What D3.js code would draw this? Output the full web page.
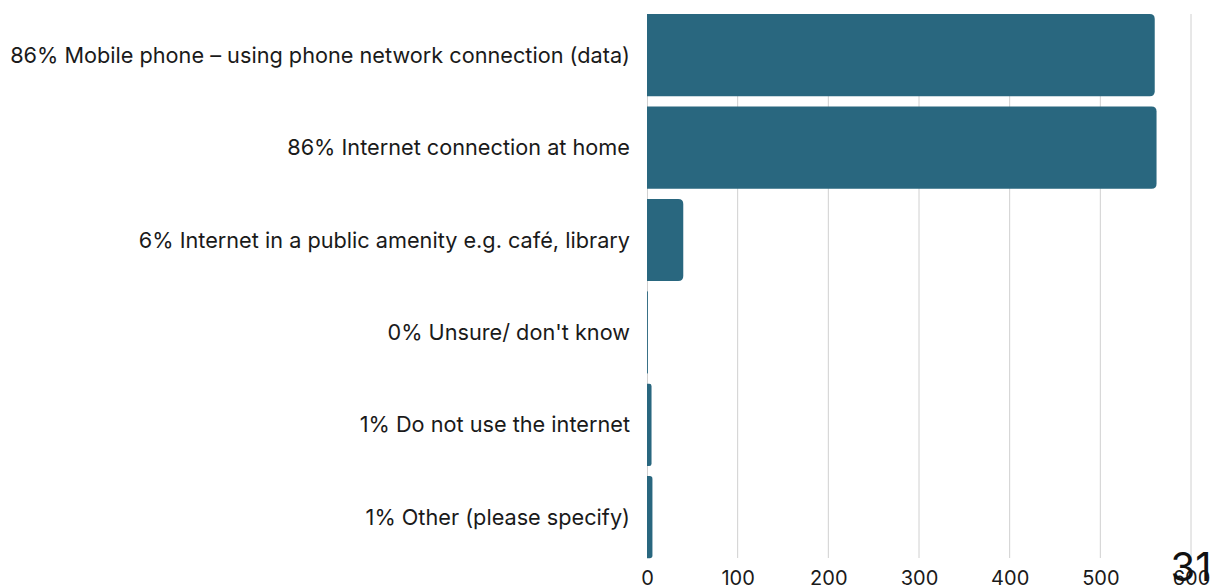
<!DOCTYPE html>
<html>
<head>
<meta charset="utf-8">
<script src="https://cdn.jsdelivr.net/npm/d3@7"></script>
<style>
  html, body { margin: 0; padding: 0; background: #fff; }
  svg { display: block; font-family: "Inter", "Noto Sans", sans-serif; }
</style>
</head>
<body>
<svg id="chart" width="1222" height="585"></svg>
<script>
// Survey answers: how respondents connect to the internet
const categories = [
  "86% Mobile phone \u2013 using phone network connection (data)",
  "86% Internet connection at home",
  "6% Internet in a public amenity e.g. caf\u00e9, library",
  "0% Unsure/ don't know",
  "1% Do not use the internet",
  "1% Other (please specify)"
];
const counts = [560, 562, 40, 1, 5, 6];
const xTicks = [0, 100, 200, 300, 400, 500, 600];
const cornerLabel = "31";

const svg = d3.select("#chart");
const x0 = 647, x1 = 1191;

const x = d3.scaleLinear().domain([0, 600]).range([x0, x1]);
const y = d3.scaleBand()
  .domain(categories)
  .range([9, 563.4])
  .paddingInner(0.11)
  .paddingOuter(0.055);

// vertical grid lines
svg.append("g")
  .selectAll("line")
  .data(xTicks.slice(1))
  .join("line")
  .attr("x1", d => x(d)).attr("x2", d => x(d))
  .attr("y1", 14).attr("y2", 558)
  .attr("stroke", "#d0d0d0")
  .attr("stroke-width", 1);

// zero baseline
svg.append("line")
  .attr("x1", x(0) + 0.5).attr("x2", x(0) + 0.5)
  .attr("y1", 14).attr("y2", 558)
  .attr("stroke", "#d0d0d0");

// bars, rounded on the value end only
function barPath(d) {
  const left = x(0), right = x(d.v);
  const top = y(d.c), h = y.bandwidth();
  const r = Math.min(5, (right - left) / 2, h / 2);
  return `M${left},${top}H${right - r}Q${right},${top} ${right},${top + r}` +
         `V${top + h - r}Q${right},${top + h} ${right - r},${top + h}H${left}Z`;
}
svg.append("g")
  .selectAll("path")
  .data(categories.map((c, i) => ({ c, v: counts[i] })))
  .join("path")
  .attr("d", barPath)
  .attr("fill", "#29677f");

// category labels
svg.append("g")
  .selectAll("text")
  .data(categories)
  .join("text")
  .attr("x", 630)
  .attr("y", d => y(d) + y.bandwidth() / 2)
  .attr("dy", "0.35em")
  .attr("text-anchor", "end")
  .attr("font-size", 21.7)
  .attr("fill", "#1a1a1a")
  .text(d => d);

// x axis tick labels
const xAxis = d3.axisBottom(x).tickValues(xTicks).tickSize(0).tickPadding(0);
const gx = svg.append("g").attr("transform", "translate(0,566)").call(xAxis);
gx.select(".domain").remove();
gx.selectAll("text")
  .attr("font-size", 20)
  .attr("font-family", "Inter, 'Noto Sans', sans-serif")
  .attr("fill", "#1a1a1a")
  .attr("dy", "0.95em");

// corner figure
svg.append("text")
  .attr("x", x(600))
  .attr("y", 581)
  .attr("text-anchor", "middle")
  .attr("font-size", 40)
  .attr("fill", "#111")
  .text(cornerLabel);
</script>
</body>
</html>
